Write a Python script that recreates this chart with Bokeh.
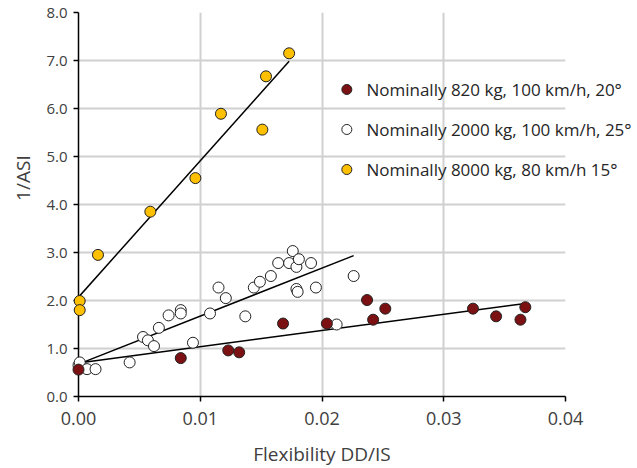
import numpy as np
from bokeh.plotting import figure
from bokeh.models import Range1d, FixedTicker, NumeralTickFormatter
from bokeh.core.properties import value
from bokeh.embed import file_html
from bokeh.resources import INLINE

# ---- data ----
series_names = ["Nominally 820 kg, 100 km/h, 20°",
                "Nominally 2000 kg, 100 km/h, 25°",
                "Nominally 8000 kg, 80 km/h 15°"]

red_x = [0.0000, 0.0084, 0.0123, 0.0132, 0.0168, 0.0204, 0.0237, 0.0242, 0.0252,
         0.0324, 0.0343, 0.0363, 0.0367]
red_y = [0.56, 0.80, 0.96, 0.92, 1.52, 1.52, 2.01, 1.60, 1.83, 1.83, 1.67, 1.60, 1.86]

white_x = [0.0000, 0.0001, 0.0007, 0.0014, 0.0042, 0.0053, 0.0057, 0.0062, 0.0066,
           0.0074, 0.0084, 0.0084, 0.0094, 0.0108, 0.0115, 0.0121, 0.0137, 0.0144,
           0.0149, 0.0158, 0.0164, 0.0173, 0.0176, 0.0179, 0.0181, 0.0191, 0.0179,
           0.0180, 0.0195, 0.0226, 0.0212]
white_y = [0.65, 0.71, 0.57, 0.57, 0.71, 1.24, 1.17, 1.05, 1.43, 1.69, 1.80, 1.73,
           1.12, 1.73, 2.27, 2.05, 1.67, 2.27, 2.39, 2.51, 2.78, 2.78, 3.03, 2.70,
           2.86, 2.78, 2.24, 2.18, 2.27, 2.51, 1.50]

yellow_x = [0.0001, 0.0001, 0.0016, 0.0059, 0.0096, 0.0117, 0.0151, 0.0154, 0.0173]
yellow_y = [1.99, 1.80, 2.95, 3.85, 4.55, 5.89, 5.56, 6.67, 7.15]

# linear trend lines (red, white, yellow)
trend_x_end = [0.0367, 0.0226, 0.0173]
trend_intercept = [0.70, 0.675, 2.07]
trend_slope = [33.7, 100.0, 284.0]

x_ticks = [0.0, 0.01, 0.02, 0.03, 0.04]
y_ticks = [0, 1, 2, 3, 4, 5, 6, 7, 8]

# ---- figure ----
FONT = "Open Sans"
TXT = "#404040"
colors = ["#7b1113", "#ffffff", "#ffc000"]

p = figure(width=637, height=468, output_backend="svg", toolbar_location=None,
           x_range=Range1d(0, 0.04), y_range=Range1d(0, 8),
           min_border_left=78, min_border_right=72, min_border_top=12, min_border_bottom=72,
           frame_width=487, frame_height=384)
p.outline_line_color = None
p.background_fill_color = "white"
p.border_fill_color = "white"

for ax in (p.xaxis[0], p.yaxis[0]):
    ax.axis_line_color = "black"
    ax.axis_line_width = 1.5
    ax.major_tick_line_color = "black"
    ax.major_tick_line_width = 1.5
    ax.major_tick_out = 5
    ax.major_tick_in = 0
    ax.minor_tick_line_color = None
    ax.major_label_text_font = FONT
    ax.major_label_text_color = TXT
    ax.axis_label_text_font = FONT
    ax.axis_label_text_font_style = "normal"
    ax.axis_label_text_color = TXT

p.xaxis[0].major_label_text_font_size = "18px"
p.yaxis[0].major_label_text_font_size = "15px"
p.xaxis[0].axis_label_text_font_size = "19px"

p.xaxis[0].ticker = FixedTicker(ticks=x_ticks)
p.yaxis[0].ticker = FixedTicker(ticks=y_ticks)
p.xaxis[0].formatter = NumeralTickFormatter(format="0.00")
p.yaxis[0].formatter = NumeralTickFormatter(format="0.0")
p.xaxis[0].axis_label = "Flexibility DD/IS"
p.xaxis[0].axis_label_standoff = 13
p.xaxis[0].major_label_standoff = 10
p.yaxis[0].major_label_standoff = 6

for g in (p.xgrid[0], p.ygrid[0]):
    g.grid_line_color = "#d0d0d0"
    g.grid_line_width = 2
p.xgrid[0].ticker = FixedTicker(ticks=x_ticks)
p.ygrid[0].ticker = FixedTicker(ticks=y_ticks)

# y-axis title (placed like the reference, above the vertical centre)
yt = p.text(x=[-0.00459], y=[4.55], text=["1/ASI"], angle=np.pi / 2,
            text_font=value(FONT), text_font_size="19px", text_color=TXT,
            text_align="center", text_baseline="middle")
yt.level = "overlay"

# trend lines
for xe, b, m in zip(trend_x_end, trend_intercept, trend_slope):
    xs = np.array([0.0, xe])
    p.line(xs, b + m * xs, line_color="black", line_width=1.5)

# scatter series
r_white = p.scatter(white_x, white_y, size=11, fill_color=colors[1], line_color="#222222",
                    line_width=1)
r_red = p.scatter(red_x, red_y, size=11, fill_color=colors[0], line_color="#222222",
                  line_width=1)
r_yel = p.scatter(yellow_x, yellow_y, size=11, fill_color=colors[2], line_color="#222222",
                  line_width=1)
for r in (r_white, r_red, r_yel):
    r.level = "overlay"

# legend (drawn unclipped so it can run past the plot frame like the reference)
leg_rows_y = [6.396, 5.563, 4.729]
lm = p.scatter([0.02204] * 3, leg_rows_y, size=10, fill_color=colors,
               line_color="#222222", line_width=1)
lm.level = "overlay"
lt = p.text(x=[0.02365] * 3, y=leg_rows_y, text=series_names,
            text_font=value(FONT), text_font_size="17px", text_color="#262626",
            text_align="left", text_baseline="middle")
lt.level = "overlay"

open("out.html", "w").write(file_html(p, INLINE))
